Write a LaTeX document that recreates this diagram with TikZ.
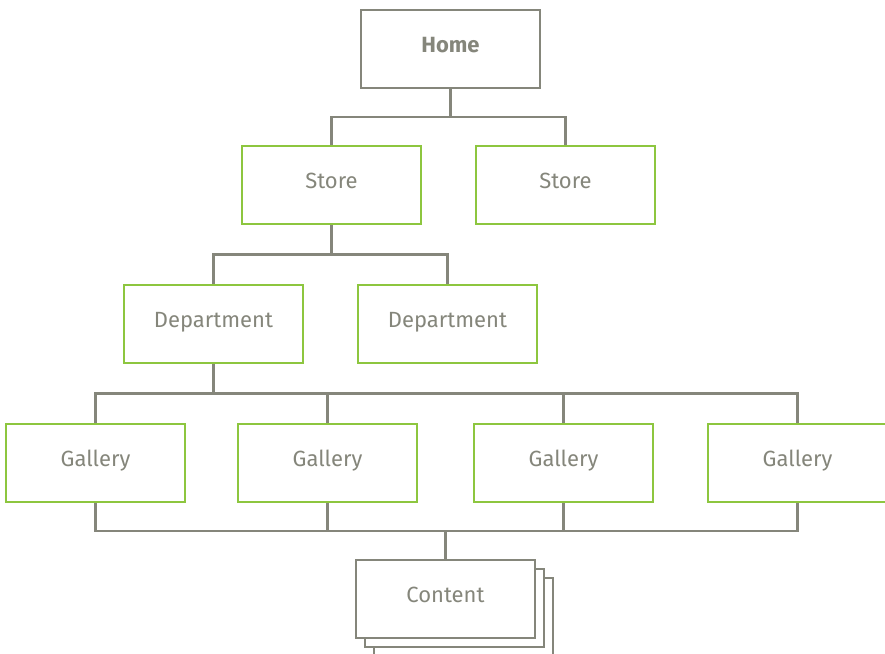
\documentclass[tikz,border=0pt]{standalone}
\usepackage{fontspec}
\setmainfont{Fira Sans}
\usetikzlibrary{positioning}
\definecolor{linegray}{HTML}{85867B}
\definecolor{leafgreen}{HTML}{8DC63F}

\begin{document}
\begin{tikzpicture}[
        x=1pt, y=-1pt,
        box/.style={draw=leafgreen, line width=2.6pt, fill=white, align=center,
            font=\fontsize{22}{26}\selectfont, text=linegray,
            text height=11pt, text depth=4pt,
            minimum width=179pt, minimum height=78pt, inner sep=0pt},
        graybox/.style={box, draw=linegray},
        link/.style={draw=linegray, line width=2.6pt}
    ]
        \useasboundingbox (0,0) rectangle (885,653);
        % levels
        \node[graybox, font=\fontsize{22}{26}\selectfont\bfseries] (home) at (450.5,49) {Home};
        \node[box] (store1) at (331.5,185) {Store};
        \node[box] (store2) at (565.5,185) {Store};
        \node[box] (dept1) at (213.5,324) {Department};
        \node[box] (dept2) at (447.5,324) {Department};
        \node[box] (gal1) at (95.5,463) {Gallery};
        \node[box] (gal2) at (327.5,463) {Gallery};
        \node[box] (gal3) at (563.5,463) {Gallery};
        \node[box] (gal4) at (797.5,463) {Gallery};
        % stacked content pages
        \node[graybox] (content3) at (463.5,617) {};
        \node[graybox] (content2) at (454.5,608) {};
        \node[graybox] (content) at (445.5,599) {Content};
        % bus lines
        \coordinate (bus1) at (0,117);
        \coordinate (bus2) at (0,254.5);
        \coordinate (bus3) at (0,393.5);
        \coordinate (bus4) at (0,531);
        \draw[link] (home.south) -- (home.south |- bus1) -| (store1.north);
        \draw[link] (home.south |- bus1) -| (store2.north);
        \draw[link] (store1.south) -- (store1.south |- bus2) -| (dept1.north);
        \draw[link] (store1.south |- bus2) -| (dept2.north);
        \draw[link] (dept1.south) -- (dept1.south |- bus3);
        \foreach \g in {gal1,gal2,gal3,gal4} {
            \draw[link] (dept1.south |- bus3) -| (\g.north);
            \draw[link] (\g.south) |- (content.north |- bus4);
        }
        \draw[link] (content.north |- bus4) -- (content.north);
    \end{tikzpicture}
\end{document}
